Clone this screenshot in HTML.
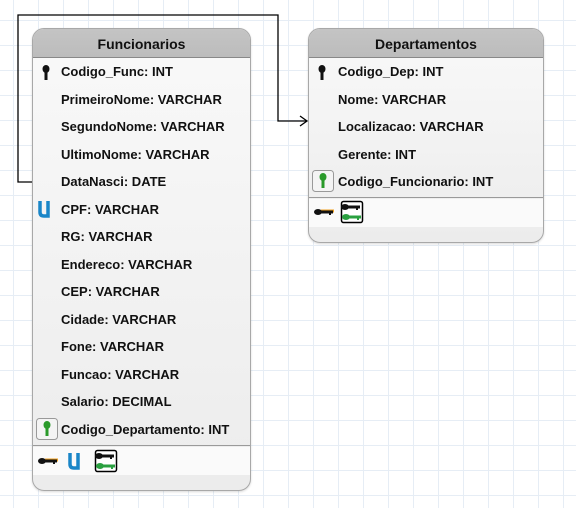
<!DOCTYPE html>
<html><head><style>
body{margin:0;width:576px;height:508px;overflow:hidden;background:#fff;
background-image:linear-gradient(to right,#e6edf5 1px,transparent 1px),linear-gradient(to bottom,#e6edf5 1px,transparent 1px);
background-size:25px 25px;background-position:13px 20px;font-family:"Liberation Sans",sans-serif;position:relative}
.t{position:absolute;border:1px solid #a8a8a8;border-radius:12px;background:linear-gradient(#f9f9f9,#ececec);box-shadow:0 1px 2px rgba(0,0,0,.15);overflow:hidden}
.h{height:28px;background:linear-gradient(#c4c4c4,#bcbcbc);border-bottom:1px solid #888;text-align:center;font-weight:bold;font-size:14px;line-height:30px;color:#111}
.r{position:absolute;font-weight:bold;font-size:13px;color:#111;white-space:nowrap}
.sep{position:absolute;left:0;right:0;height:1px;background:#9a9a9a}
.ft{position:absolute;left:0;right:0;height:28px;background:#fafafa}
</style></head><body>
<svg width="576" height="508" style="position:absolute;left:0;top:0">
<polyline points="32,182 18,182 18,15 278,15 278,121 307,121" fill="none" stroke="#000" stroke-width="1.3"/>
<polyline points="300,116 307,121 300,126" fill="none" stroke="#000" stroke-width="1.3"/>
</svg>

<div class="t" style="left:32px;top:28px;width:217px;height:461px">
<div class="h">Funcionarios</div>
<div class="ft" style="top:418px"></div>
<div class="sep" style="top:416px"></div>
</div>
<div class="t" style="left:308px;top:28px;width:234px;height:213px">
<div class="h">Departamentos</div>
<div class="ft" style="top:170px"></div>
<div class="sep" style="top:168px"></div>
</div>

<svg width="576" height="508" style="position:absolute;left:0;top:0">
<defs>
<g id="key"><ellipse cx="0" cy="-3" rx="3.5" ry="4" /><rect x="-1.5" y="0" width="3" height="8"/></g>
<g id="hk"><ellipse cx="-6" cy="0" rx="4" ry="3"/><rect x="-3" y="-1.5" width="12" height="3"/><rect x="5" y="0" width="2" height="3"/></g>
</defs>
<use href="#key" x="46" y="72" fill="#111"/>
<use href="#key" x="322" y="72" fill="#111"/>
<rect x="36.5" y="418.5" width="21" height="21" rx="3" fill="#f4f4f4" stroke="#999"/>
<use href="#key" x="47" y="428" fill="#2a9a2a"/>
<rect x="312.5" y="170.5" width="21" height="21" rx="3" fill="#f4f4f4" stroke="#999"/>
<use href="#key" x="323" y="180" fill="#2a9a2a"/>
<g transform="translate(48,461)"><rect x="-3" y="-2.5" width="13" height="3" fill="#f0a020"/><use href="#hk" fill="#111"/></g>
<g transform="translate(324,212)"><rect x="-3" y="-2.5" width="13" height="3" fill="#f0a020"/><use href="#hk" fill="#111"/></g>
<rect x="95.5" y="450.5" width="21" height="21" rx="2" fill="#fff" stroke="#000" stroke-width="1.5"/>
<use href="#hk" x="105" y="456" fill="#111"/><use href="#hk" x="106" y="466" fill="#2aa040"/>
<rect x="341.5" y="201.5" width="21" height="21" rx="2" fill="#fff" stroke="#000" stroke-width="1.5"/>
<use href="#hk" x="351" y="207" fill="#111"/><use href="#hk" x="352" y="217" fill="#2aa040"/>
<path d="M70,453 v11 q0,4 4,4 h4 v-15" fill="none" stroke="#1a86c8" stroke-width="3.5"/>
<path d="M40,201 v11 q0,4 4,4 h4 v-15" fill="none" stroke="#1a86c8" stroke-width="3.5"/>
</svg>

<div class="r" style="left:61px;top:64px">Codigo_Func: INT</div>
<div class="r" style="left:61px;top:92px">PrimeiroNome: VARCHAR</div>
<div class="r" style="left:61px;top:119px">SegundoNome: VARCHAR</div>
<div class="r" style="left:61px;top:147px">UltimoNome: VARCHAR</div>
<div class="r" style="left:61px;top:174px">DataNasci: DATE</div>
<div class="r" style="left:61px;top:202px">CPF: VARCHAR</div>
<div class="r" style="left:61px;top:229px">RG: VARCHAR</div>
<div class="r" style="left:61px;top:257px">Endereco: VARCHAR</div>
<div class="r" style="left:61px;top:284px">CEP: VARCHAR</div>
<div class="r" style="left:61px;top:312px">Cidade: VARCHAR</div>
<div class="r" style="left:61px;top:339px">Fone: VARCHAR</div>
<div class="r" style="left:61px;top:367px">Funcao: VARCHAR</div>
<div class="r" style="left:61px;top:394px">Salario: DECIMAL</div>
<div class="r" style="left:61px;top:422px">Codigo_Departamento: INT</div>

<div class="r" style="left:338px;top:64px">Codigo_Dep: INT</div>
<div class="r" style="left:338px;top:92px">Nome: VARCHAR</div>
<div class="r" style="left:338px;top:119px">Localizacao: VARCHAR</div>
<div class="r" style="left:338px;top:147px">Gerente: INT</div>
<div class="r" style="left:338px;top:174px">Codigo_Funcionario: INT</div>
</body></html>
